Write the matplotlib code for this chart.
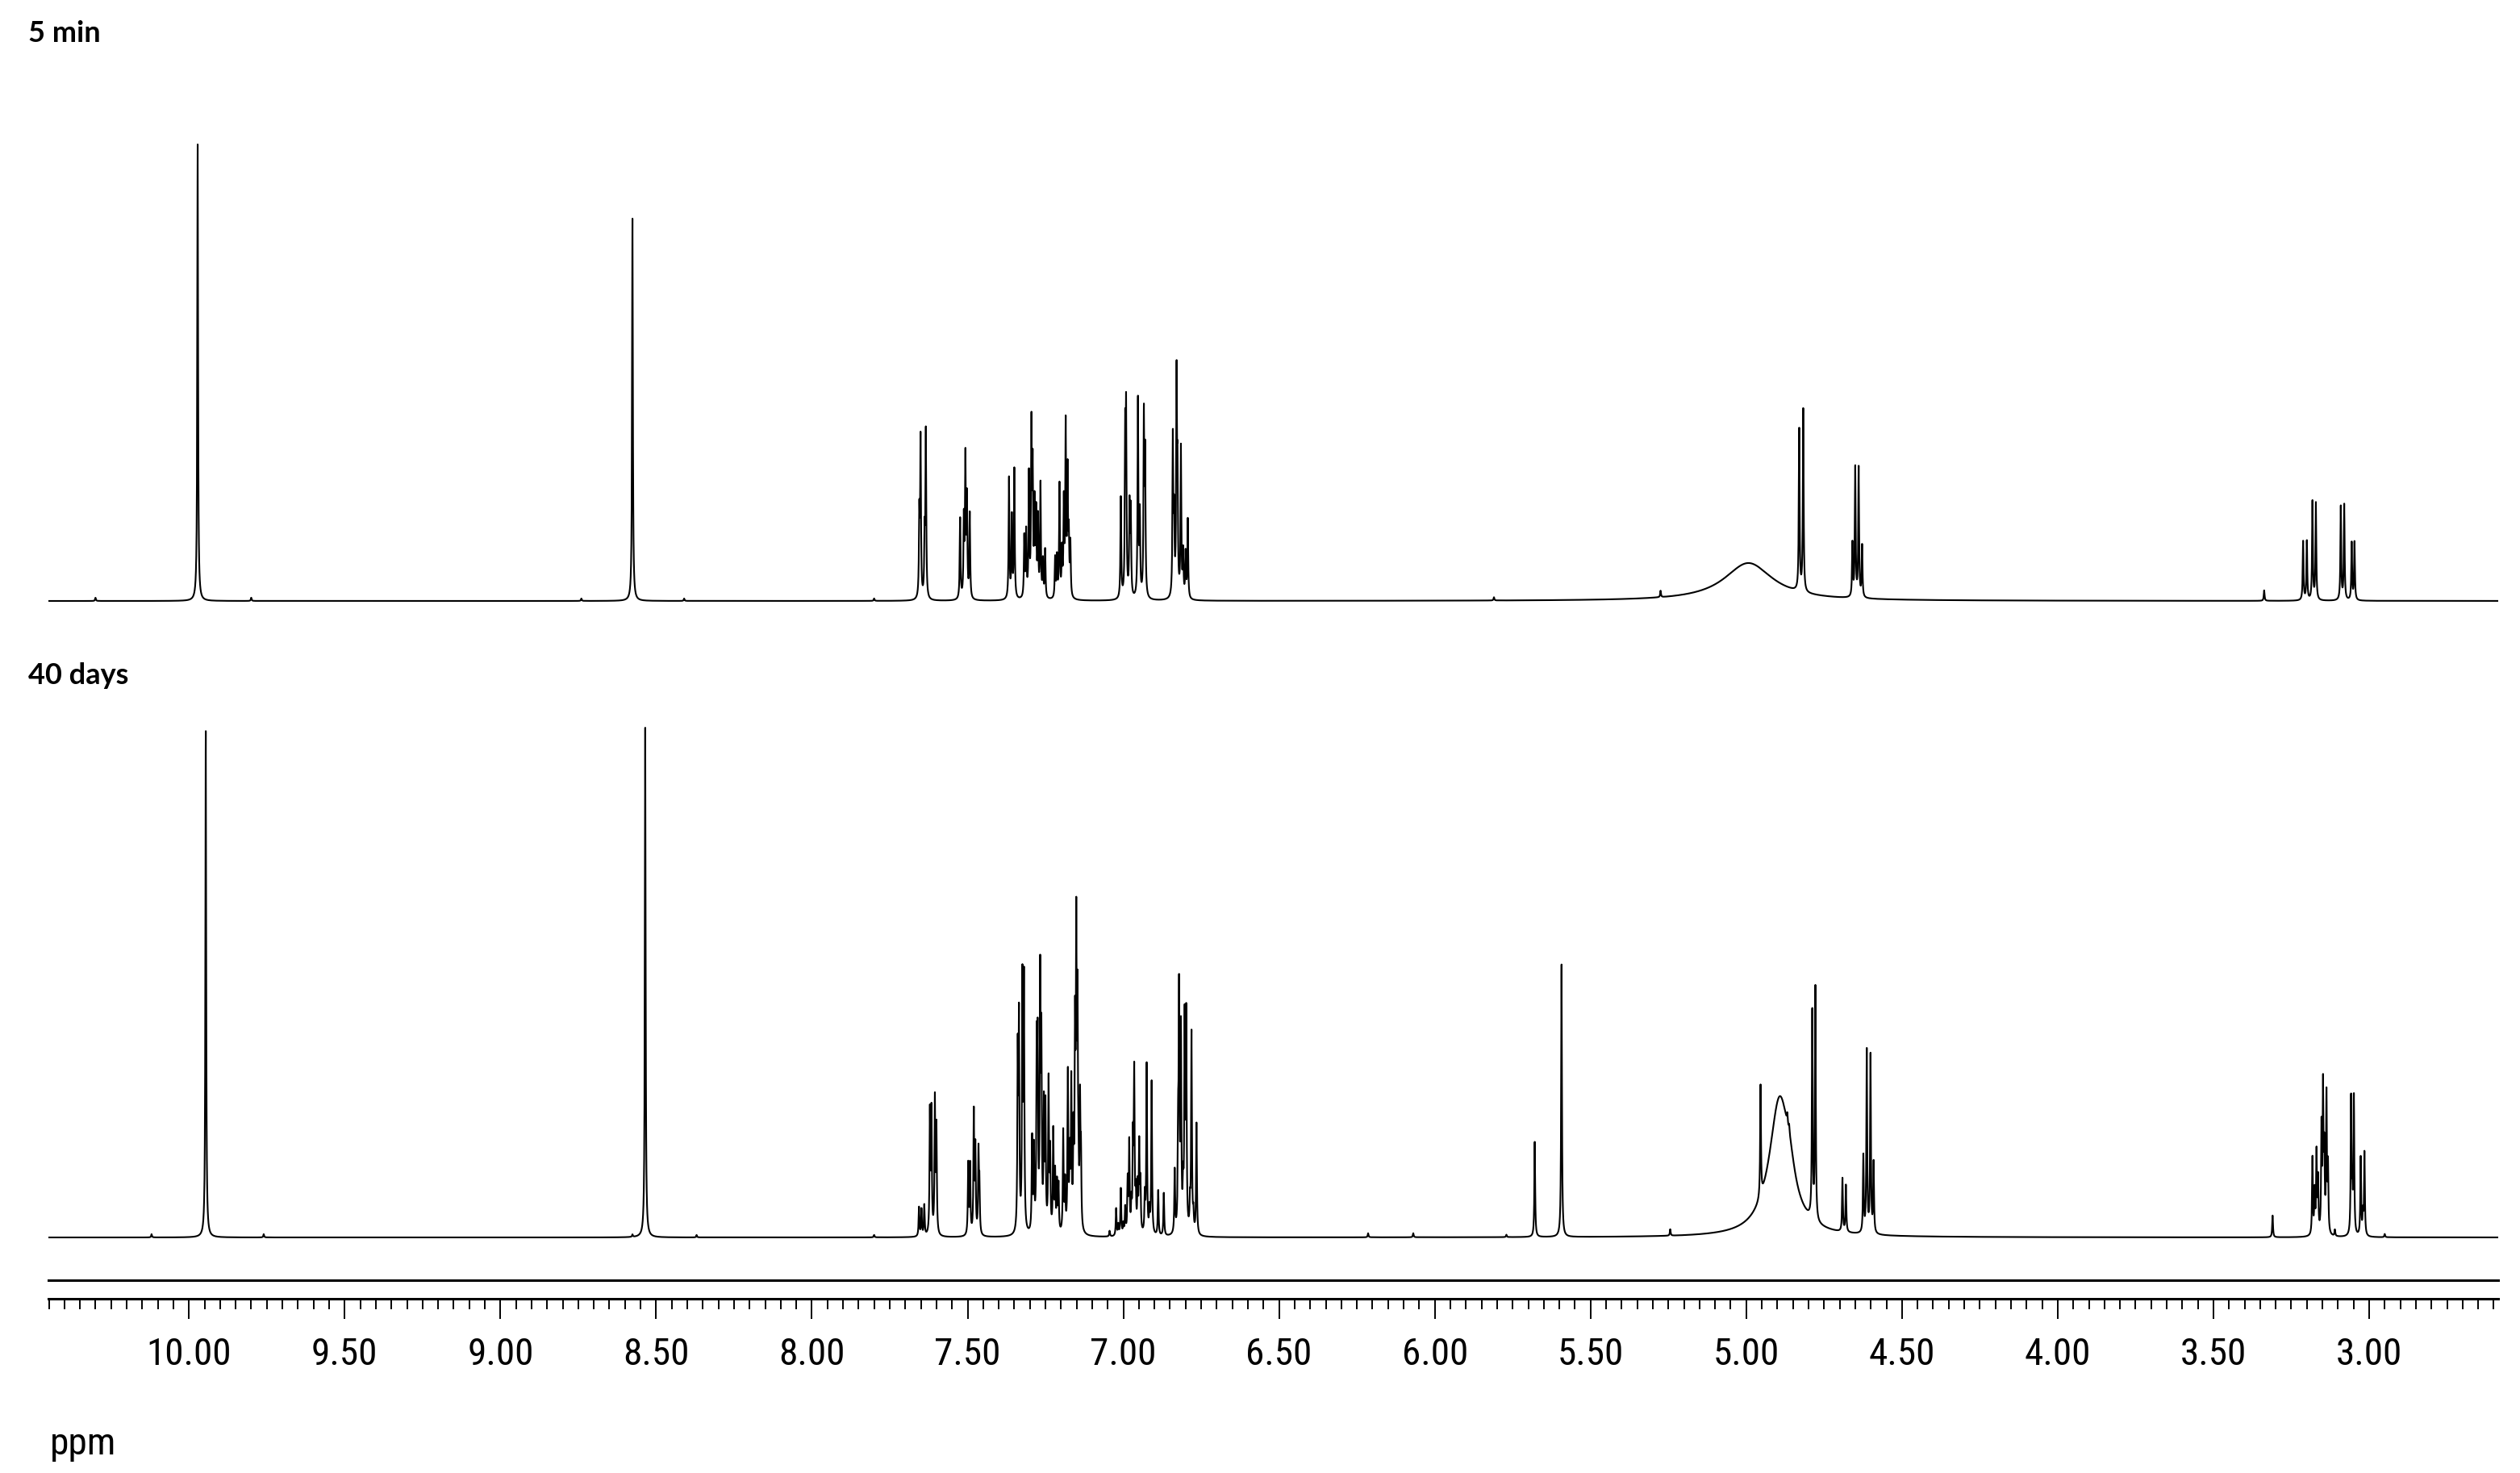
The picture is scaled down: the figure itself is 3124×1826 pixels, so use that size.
import numpy as np
import matplotlib
matplotlib.use("Agg")
import matplotlib.pyplot as plt
from matplotlib.ticker import MultipleLocator, FormatStrFormatter
import matplotlib.font_manager as fm

# ---------------- data ----------------
# spectrum 1: "5 min"  (ppm position, intensity) of sharp lines
top_ppm = [10.30, 9.972, 9.80, 8.74, 8.576, 8.41, 7.80,
           7.655, 7.651, 7.638, 7.634,
           7.524, 7.512, 7.507, 7.502, 7.493,
           7.367, 7.358, 7.350, 7.318, 7.312, 7.303, 7.295, 7.291, 7.285, 7.280,
           7.274, 7.266, 7.258, 7.251, 7.219, 7.213, 7.205, 7.197, 7.191, 7.185,
           7.179, 7.175, 7.170,
           7.008, 6.994, 6.991, 6.980, 6.976, 6.953, 6.947, 6.934, 6.930,
           6.841, 6.837, 6.829, 6.826, 6.815, 6.808, 6.800, 6.793,
           5.81, 5.275, 4.830, 4.817, 4.659, 4.650, 4.639, 4.628,
           3.337, 3.212, 3.200, 3.182, 3.171, 3.091, 3.080, 3.056, 3.047]
top_int = [4, 566, 4, 3, 474, 3, 3,
           100, 195, 75, 205,
           100, 95, 170, 120, 105,
           150, 100, 160, 75, 80, 150, 205, 150, 110, 100,
           95, 140, 45, 60, 50, 50, 140, 55, 115, 210,
           150, 70, 65,
           125, 190, 215, 110, 105, 245, 100, 220, 170,
           195, 95, 262, 135, 185, 55, 55, 98,
           4, 8, 200, 226, 66, 160, 160, 64,
           13, 73, 73, 122, 120, 116, 118, 71, 72]
# broad (exchanging) signals of spectrum 1: position, intensity, width (ppm)
top_broad_ppm = [4.993]
top_broad_int = [47]
top_broad_fwhm = [0.19]

# spectrum 2: "40 days"
bot_ppm = [10.12, 9.946, 9.76, 8.576, 8.535, 8.37, 7.80,
           7.656, 7.648, 7.639, 7.621, 7.616, 7.605, 7.600,
           7.498, 7.492, 7.480, 7.475, 7.465, 7.462,
           7.339, 7.335, 7.324, 7.319, 7.293, 7.287,
           7.278, 7.275, 7.267, 7.263, 7.255, 7.250, 7.240, 7.235,
           7.225, 7.219, 7.213, 7.208, 7.193, 7.187, 7.178, 7.172, 7.167, 7.160,
           7.155, 7.151, 7.147, 7.144, 7.139, 7.136,
           7.044, 7.023, 7.016, 7.008, 7.000,
           6.994, 6.986, 6.981, 6.974, 6.969, 6.965, 6.960, 6.954, 6.949, 6.945,
           6.931, 6.925, 6.916, 6.909, 6.888, 6.870,
           6.835, 6.824, 6.821, 6.815, 6.808, 6.803, 6.798, 6.786, 6.781, 6.775, 6.765,
           6.214, 6.069, 5.77, 5.679, 5.593, 5.244,
           4.954, 4.868, 4.862, 4.788, 4.778, 4.691, 4.680,
           4.624, 4.613, 4.601, 4.591,
           3.310, 3.182, 3.175, 3.169, 3.164, 3.153, 3.148, 3.144, 3.137, 3.132,
           3.11, 3.058, 3.054, 3.049, 3.027, 3.020, 3.015, 2.95]
bot_int = [4, 628, 4, 3, 632, 3, 3,
           36, 33, 38, 150, 150, 165, 130,
           88, 86, 150, 105, 100, 58,
           215, 255, 305, 305, 115, 100,
           210, 210, 305, 225, 150, 150, 185, 95,
           125, 72, 60, 58, 125, 60, 195, 88, 180, 110,
           230, 350, 260, 50, 150, 85,
           7, 34, 13, 58, 13,
           33, 65, 112, 34, 110, 195, 45, 56, 108, 60,
           46, 210, 28, 190, 56, 53,
           78, 110, 285, 245, 50, 255, 262, 32, 248, 22, 138,
           5, 5, 3, 118, 338, 8,
           138, 12, 10, 255, 288, 66, 58,
           95, 226, 220, 87,
           27, 96, 52, 100, 66, 128, 175, 95, 170, 82,
           8, 168, 42, 170, 97, 26, 103, 4]
bot_broad_ppm = [4.893, 4.860]
bot_broad_int = [168, 25]
bot_broad_fwhm = [0.08, 0.04]

spectrum_labels = ["5 min", "40 days"]
ppm_range = (10.4513, 2.5856)
SHARP_FWHM = 0.003

# ---------------- helpers ----------------
def lorentz_sum(grid, pos, amp, fwhm):
    y = np.zeros_like(grid)
    for p, a, w in zip(pos, amp, fwhm):
        y += a / (1.0 + ((grid - p) / (w / 2.0)) ** 2)
    return y

grid = np.linspace(ppm_range[1], ppm_range[0], 90000)
top_y = lorentz_sum(grid, top_ppm, top_int, [SHARP_FWHM] * len(top_ppm)) + \
        lorentz_sum(grid, top_broad_ppm, top_broad_int, top_broad_fwhm)
bot_y = lorentz_sum(grid, bot_ppm, bot_int, [SHARP_FWHM] * len(bot_ppm)) + \
        lorentz_sum(grid, bot_broad_ppm, bot_broad_int, bot_broad_fwhm)

# ---------------- fonts ----------------
names = sorted({f.name for f in fm.fontManager.ttflist})
tick_font = "Liberation Sans"
for cand in ["Liberation Sans Narrow", "Arial Narrow", "Roboto Condensed",
             "DejaVu Sans Condensed", "Open Sans Condensed"]:
    if cand in names:
        tick_font = cand
        break
else:
    narrow = [n for n in names if "Narrow" in n or "Condensed" in n]
    if narrow:
        tick_font = narrow[0]
label_font = "Lato" if "Lato" in names else "DejaVu Sans"

# ---------------- figure ----------------
W, H = 3124, 1826
fig = plt.figure(figsize=(W / 100, H / 100), dpi=100)

def rect(x0, y0, x1, y1):
    return [x0 / W, 1 - y1 / H, (x1 - x0) / W, (y1 - y0) / H]

X0, X1 = 60, 3097

ax1 = fig.add_axes(rect(X0, 120, X1, 760))
ax1.plot(grid, top_y, color="black", lw=1.5)
ax1.set_xlim(*ppm_range)
ax1.set_ylim(-15, 625)
ax1.axis("off")

ax2 = fig.add_axes(rect(X0, 860, X1, 1550))
ax2.plot(grid, bot_y, color="black", lw=1.5)
ax2.set_xlim(*ppm_range)
ax2.set_ylim(-16, 674)
ax2.axis("off")

# ppm scale
ax3 = fig.add_axes(rect(X0, 1587, X1, 1610))
ax3.set_xlim(*ppm_range)
ax3.set_yticks([])
for s in ("left", "right"):
    ax3.spines[s].set_visible(False)
for s in ("top", "bottom"):
    ax3.spines[s].set_linewidth(2.2)
ax3.xaxis.set_major_locator(MultipleLocator(0.5))
ax3.xaxis.set_minor_locator(MultipleLocator(0.05))
ax3.xaxis.set_major_formatter(FormatStrFormatter("%.2f"))
ax3.tick_params(axis="x", which="both", top=False, bottom=True)
ax3.tick_params(axis="x", which="major", direction="out", length=18, width=1.4, pad=16,
                labelsize=34)
ax3.tick_params(axis="x", which="minor", direction="out", length=9, width=1.4)
for lab in ax3.get_xticklabels():
    lab.set_fontfamily(tick_font)

fig.text(62 / W, 1 - 1790 / H, "ppm", fontfamily=tick_font, fontsize=34,
         ha="left", va="center")
fig.text(35 / W, 1 - 41 / H, spectrum_labels[0], fontfamily=label_font,
         fontweight="bold", fontsize=26, ha="left", va="center")
fig.text(35 / W, 1 - 837 / H, spectrum_labels[1], fontfamily=label_font,
         fontweight="bold", fontsize=26, ha="left", va="center")

fig.savefig("out.png", dpi=100, facecolor="white")
